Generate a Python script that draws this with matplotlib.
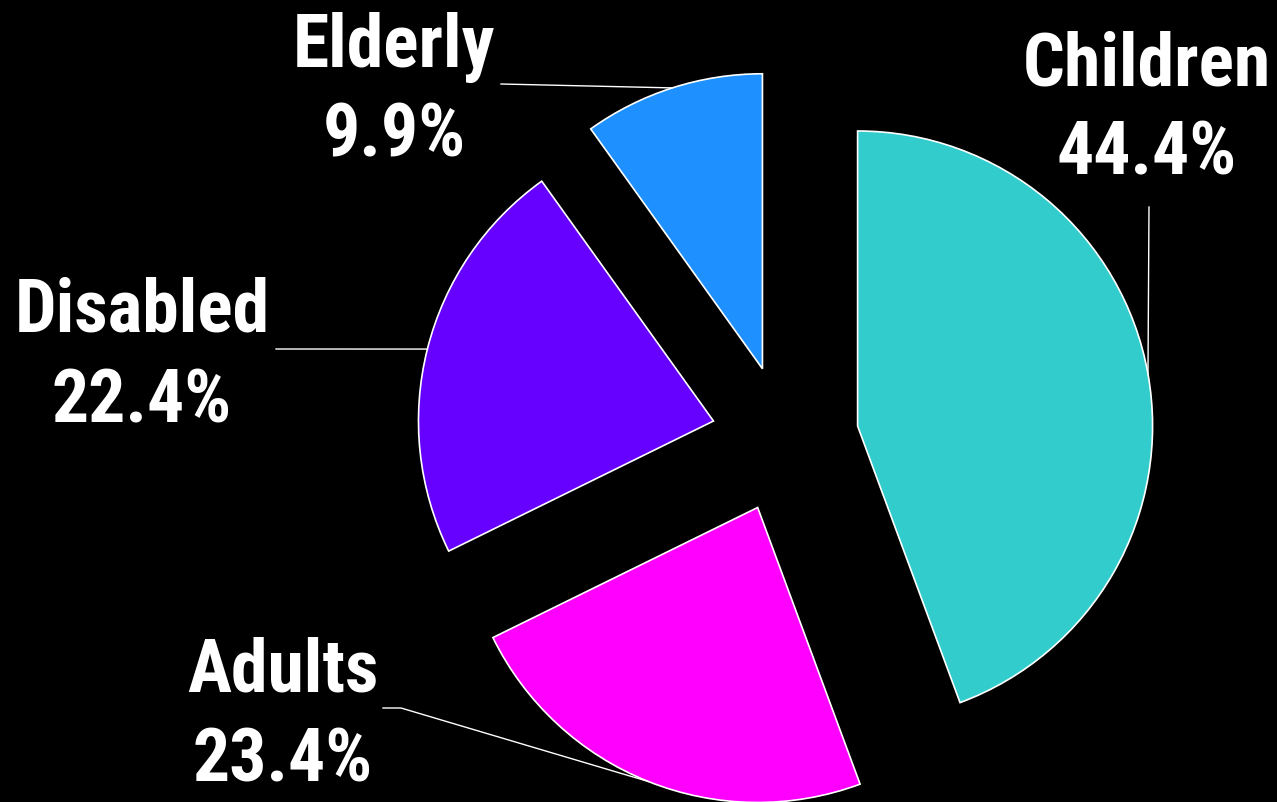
#!/usr/bin/env python3
"""
Exploded pie chart of beneficiaries by group, on a black background.

Output:
- out.png
"""

import numpy as np
import matplotlib.pyplot as plt
from matplotlib import font_manager

# Data
groups = ['Children', 'Adults', 'Disabled', 'Elderly']
shares = [44.4, 23.4, 22.4, 9.9]
colors = ['#33CCCC', '#FF00FF', '#6600FF', '#1E90FF']

W, H = 1277, 803
DPI = 100
CX, CY, R = 785, 440, 295  # pie centre and radius in pixels


def px(x, y):
    """Pixel position (from top-left) -> data coordinates."""
    return (x - CX) / R, (CY - y) / R


# pick a narrow face if one is installed
names = {f.name for f in font_manager.fontManager.ttflist}
narrow = [n for n in ['Liberation Sans Narrow', 'Arial Narrow', 'Roboto Condensed',
                      'Open Sans Condensed', 'DejaVu Sans Condensed'] if n in names]
plt.rcParams['font.family'] = narrow + ['DejaVu Sans']
plt.rcParams['font.stretch'] = 'condensed'

fig = plt.figure(figsize=(W / DPI, H / DPI), dpi=DPI, facecolor='black')
ax = fig.add_axes([0, 0, 1, 1])
ax.set_facecolor('black')

wedges, _ = ax.pie(
    shares,
    colors=colors,
    explode=[0.25] * len(shares),
    startangle=90,
    counterclock=False,
    radius=1.0,
    wedgeprops=dict(edgecolor='white', linewidth=1.2),
)

ax.set_aspect('auto')
x0, y0 = px(0, H)
x1, y1 = px(W, 0)
ax.set_xlim(x0, x1)
ax.set_ylim(y0, y1)
ax.axis('off')

# label layout: text centre x, name baseline y, pct baseline y, leader path (pixels)
layout = {
    'Children': dict(x=1147, y_name=85, y_pct=175, path=[(1149, 208)]),
    'Adults': dict(x=283, y_name=692, y_pct=782, path=[(383, 709), (401, 709)]),
    'Disabled': dict(x=142, y_name=332, y_pct=423, path=[(276, 350)]),
    'Elderly': dict(x=394, y_name=67, y_pct=157, path=[(501, 85)]),
}
fs = 53 if narrow else 44

for w, name, val in zip(wedges, groups, shares):
    lay = layout[name]
    tx, ty = px(lay['x'], lay['y_name'])
    ax.text(tx, ty, name, color='white', fontsize=fs, fontweight='bold',
            ha='center', va='baseline')
    tx, ty = px(lay['x'], lay['y_pct'])
    ax.text(tx, ty, f'{val}%', color='white', fontsize=fs, fontweight='bold',
            ha='center', va='baseline')

    # leader line ends on the arc at the wedge's mid angle
    mid = np.deg2rad((w.theta1 + w.theta2) / 2)
    ex = w.center[0] + w.r * np.cos(mid)
    ey = w.center[1] + w.r * np.sin(mid)
    pts = [px(*p) for p in lay['path']] + [(ex, ey)]
    xs, ys = zip(*pts)
    ax.plot(xs, ys, color='white', linewidth=1.0)

fig.savefig('out.png', dpi=DPI, facecolor='black')
plt.close(fig)
